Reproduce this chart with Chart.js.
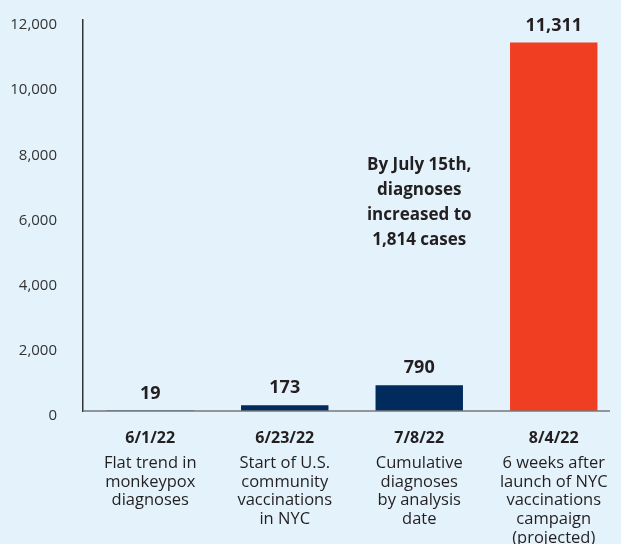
<!DOCTYPE html>
<html>
<head>
<meta charset="utf-8">
<script src="https://cdn.jsdelivr.net/npm/chart.js@4"></script>
<style>
  html, body { margin: 0; padding: 0; background: #e3f2fb; }
  #wrap { width: 621px; height: 544px; }
</style>
</head>
<body>
<div id="wrap"><canvas id="chart"></canvas></div>
<script>
// Data
const dates = ['6/1/22', '6/23/22', '7/8/22', '8/4/22'];
const descriptions = [
  ['Flat trend in', 'monkeypox', 'diagnoses'],
  ['Start of U.S.', 'community', 'vaccinations', 'in NYC'],
  ['Cumulative', 'diagnoses', 'by analysis', 'date'],
  ['6 weeks after', 'launch of NYC', 'vaccinations', 'campaign', '(projected)']
];
const cases = [19, 173, 790, 11311];
const barColors = ['#002b5c', '#002b5c', '#002b5c', '#f03e23'];
const noteLines = ['By July 15th,', 'diagnoses', 'increased to', '1,814 cases'];

const FONT = '"Open Sans", sans-serif';
const TEXT = '#231f20';

// Value labels, category labels and the note
const labelsPlugin = {
  id: 'labels',
  afterDraw(chart) {
    const ctx = chart.ctx;
    const meta = chart.getDatasetMeta(0);
    const x = chart.scales.x;
    const area = chart.chartArea;
    ctx.save();
    ctx.fillStyle = TEXT;
    ctx.textAlign = 'center';
    ctx.textBaseline = 'middle';

    // x axis line
    ctx.strokeStyle = '#777';
    ctx.lineWidth = 1.5;
    ctx.beginPath();
    ctx.moveTo(area.left, area.bottom);
    ctx.lineTo(610, area.bottom);
    ctx.stroke();

    meta.data.forEach((bar, i) => {
      ctx.font = 'bold 18px ' + FONT;
      ctx.fillText(cases[i].toLocaleString('en-US'), bar.x, bar.y - 17);

      const cx = x.getPixelForValue(i);
      ctx.font = 'bold 16px ' + FONT;
      ctx.fillText(dates[i], cx, area.bottom + 27);
      ctx.font = '16.5px ' + FONT;
      descriptions[i].forEach((line, j) => {
        ctx.fillText(line, cx, area.bottom + 52 + j * 18.8);
      });
    });

    const nx = x.getPixelForValue(2);
    ctx.font = 'bold 17px ' + FONT;
    noteLines.forEach((line, j) => {
      ctx.fillText(line, nx, 165 + j * 25);
    });
    ctx.restore();
  }
};

new Chart(document.getElementById('chart'), {
  type: 'bar',
  data: {
    labels: dates,
    datasets: [{
      data: cases,
      backgroundColor: barColors,
      barPercentage: 0.65,
      categoryPercentage: 1
    }]
  },
  options: {
    responsive: true,
    maintainAspectRatio: false,
    animation: false,
    layout: { padding: { top: 20, left: 0, right: 0, bottom: 125 } },
    plugins: {
      legend: { display: false },
      tooltip: { enabled: false }
    },
    scales: {
      x: {
        grid: { display: false },
        border: { display: false },
        ticks: { display: false }
      },
      y: {
        min: 0,
        max: 12000,
        afterFit(scale) {
          scale.width = 83;
          scale.paddingTop = 0;
          scale.paddingBottom = 0;
        },
        grid: { display: false },
        border: { display: true, color: '#333', width: 1.5 },
        ticks: {
          stepSize: 2000,
          padding: 18,
          labelOffset: 5,
          color: '#333',
          font: { family: FONT, size: 15 },
          callback: v => v.toLocaleString('en-US')
        }
      }
    }
  },
  plugins: [labelsPlugin]
});
</script>
</body>
</html>
